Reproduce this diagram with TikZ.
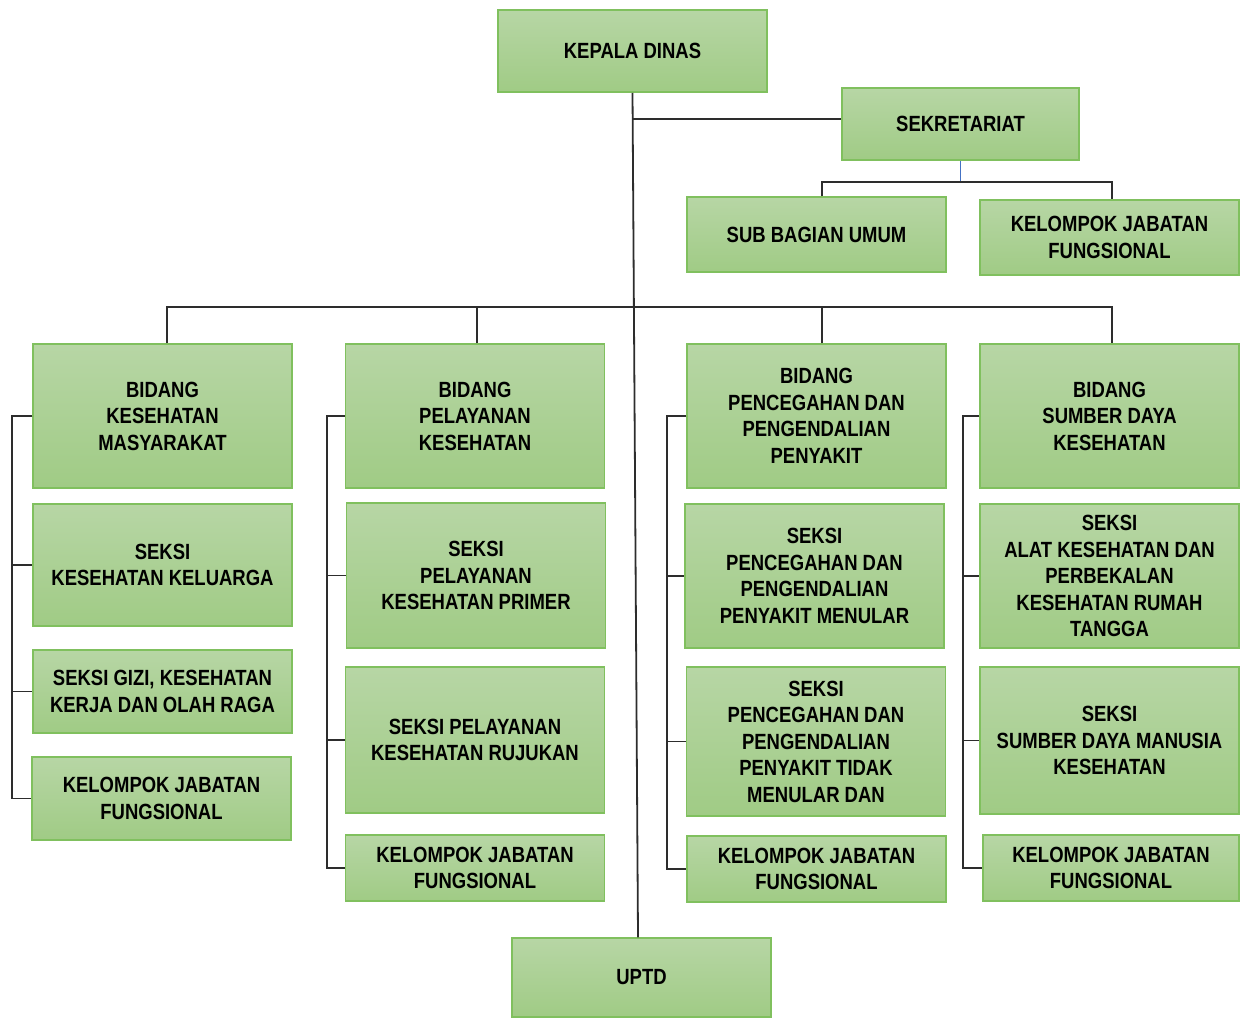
\documentclass[tikz,border=0pt]{standalone}
\usepackage{fontspec}
\setmainfont{Liberation Sans}[FakeStretch=0.84]
\usepackage{tikz}
\usetikzlibrary{positioning,calc}

\definecolor{boxtop}{RGB}{183,214,165}
\definecolor{boxbot}{RGB}{160,203,133}
\definecolor{boxline}{RGB}{128,192,94}
\definecolor{linkgray}{RGB}{45,45,45}
\definecolor{linkblue}{RGB}{68,114,196}

\begin{document}
\begin{tikzpicture}[x=0.5pt,y=-0.5pt,
  unit/.style={draw=boxline,line width=0.75pt,top color=boxtop,bottom color=boxbot,
    align=center,font=\fontsize{11}{13.25}\selectfont\bfseries,
    minimum width=129.5pt,inner sep=0pt},
  link/.style={draw=linkgray,line width=0.9pt}]
\useasboundingbox (0,0) rectangle (1240,1018);

% pimpinan dan sekretariat
\node[unit,minimum width=134.5pt,minimum height=41pt] (kepala) at (632.5,51) {KEPALA DINAS};
\node[unit,minimum width=118.5pt,minimum height=36pt] (sekr) at (960.5,124) {SEKRETARIAT};
\node[unit,minimum height=37.5pt] (subbag) at (816.5,234.5) {SUB BAGIAN UMUM};
\node[unit,minimum height=37.5pt] (kjfsek) at (1109.5,237.5) {KELOMPOK JABATAN\\FUNGSIONAL};

% kolom 1
\node[unit,minimum height=72pt] (bkm) at (162.5,416) {BIDANG\\KESEHATAN\\MASYARAKAT};
\node[unit,minimum height=61pt] (skk) at (162.5,565) {SEKSI\\KESEHATAN KELUARGA};
\node[unit,minimum height=41.5pt] (sgizi) at (162.5,691.5) {SEKSI GIZI, KESEHATAN\\KERJA DAN OLAH RAGA};
\node[unit,minimum height=41.5pt] (kjf1) at (161.5,798.5) {KELOMPOK JABATAN\\FUNGSIONAL};

% kolom 2
\node[unit,minimum height=72pt] (bpk) at (475,416) {BIDANG\\PELAYANAN\\KESEHATAN};
\node[unit,minimum height=72.5pt] (spkp) at (476,575.5) {SEKSI\\PELAYANAN\\KESEHATAN PRIMER};
\node[unit,minimum height=73pt] (spkr) at (475,740) {SEKSI PELAYANAN\\KESEHATAN RUJUKAN};
\node[unit,minimum height=33pt] (kjf2) at (475,868) {KELOMPOK JABATAN\\FUNGSIONAL};

% kolom 3
\node[unit,minimum height=72pt] (bp2p) at (816.5,416) {BIDANG\\PENCEGAHAN DAN\\PENGENDALIAN\\PENYAKIT};
\node[unit,minimum height=72pt] (sp2pm) at (814.5,576) {SEKSI\\PENCEGAHAN DAN\\PENGENDALIAN\\PENYAKIT MENULAR};
\node[unit,minimum height=74.5pt] (sp2ptm) at (816,741.5) {SEKSI\\PENCEGAHAN DAN\\PENGENDALIAN\\PENYAKIT TIDAK\\MENULAR DAN};
\node[unit,minimum height=33pt] (kjf3) at (816.5,869) {KELOMPOK JABATAN\\FUNGSIONAL};

% kolom 4
\node[unit,minimum height=72pt] (bsdk) at (1109.5,416) {BIDANG\\SUMBER DAYA\\KESEHATAN};
\node[unit,minimum height=72pt] (salkes) at (1109.5,576) {SEKSI\\ALAT KESEHATAN DAN\\PERBEKALAN\\KESEHATAN RUMAH\\TANGGA};
\node[unit,minimum height=73.5pt] (ssdmk) at (1109.5,740.5) {SEKSI\\SUMBER DAYA MANUSIA\\KESEHATAN};
\node[unit,minimum width=128pt,minimum height=33pt] (kjf4) at (1111,868) {KELOMPOK JABATAN\\FUNGSIONAL};

\node[unit,minimum height=39.5pt] (uptd) at (641.5,977.5) {UPTD};

% garis komando
\draw[link] (kepala.south) -- ($(uptd.north)+(-3.5,0)$);
\draw[link] ($(kepala.south |- sekr.west)+(0,-5)$) -- ($(sekr.west)+(0,-5)$);
\draw[linkblue,line width=0.6pt] (sekr.south) -- ++(0,21) coordinate (sekbus);
\draw[link] ($(subbag.north)+(5.5,0)$) |- (sekbus) -| ($(kjfsek.north)+(2.5,0)$);
\draw[link] ($(bkm.north)+(4.5,0)$) -- ++(0,-36) -| ($(bsdk.north)+(2.5,0)$);
\draw[link] ($(bpk.north)+(2,0)$) -- ++(0,-36);
\draw[link] ($(bp2p.north)+(5.5,0)$) -- ++(0,-36);

% garis seksi
\draw[link] (bkm.west) -- ++(-20,0) coordinate (k1) |- (kjf1.west);
\draw[link] (k1 |- skk.west) -- (skk.west);
\draw[link] (k1 |- sgizi.west) -- (sgizi.west);
\draw[link] (bpk.west) -- ++(-18,0) coordinate (k2) |- (kjf2.west);
\draw[link] (k2 |- spkp.west) -- (spkp.west);
\draw[link] (k2 |- spkr.west) -- (spkr.west);
\draw[link] (bp2p.west) -- ++(-19,0) coordinate (k3) |- (kjf3.west);
\draw[link] (k3 |- sp2pm.west) -- (sp2pm.west);
\draw[link] (k3 |- sp2ptm.west) -- (sp2ptm.west);
\draw[link] (bsdk.west) -- ++(-16,0) coordinate (k4) |- (kjf4.west);
\draw[link] (k4 |- salkes.west) -- (salkes.west);
\draw[link] (k4 |- ssdmk.west) -- (ssdmk.west);
\end{tikzpicture}
\end{document}
